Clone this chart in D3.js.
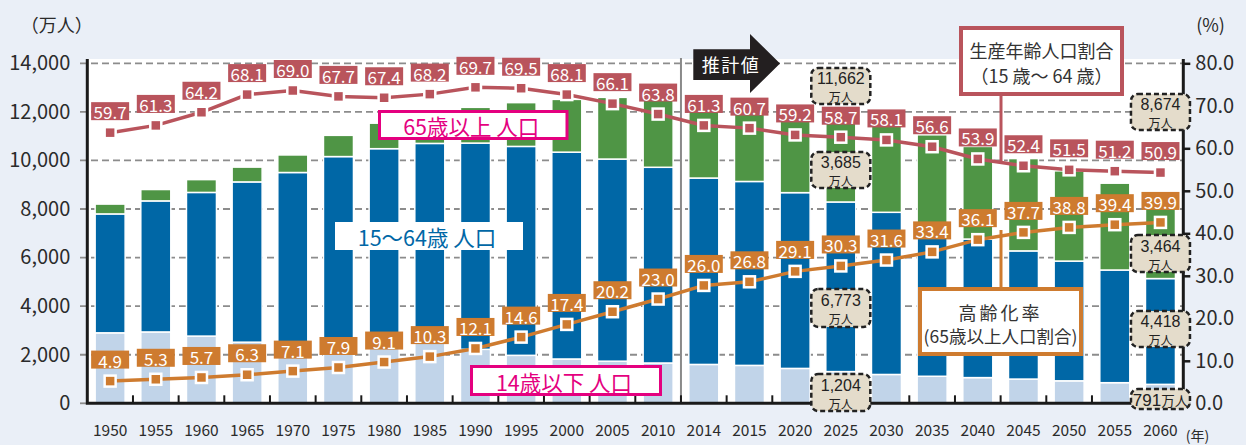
<!DOCTYPE html>
<html><head><meta charset="utf-8">
<script src="https://cdn.jsdelivr.net/npm/d3@7"></script>
<style>
body{margin:0;background:#eaeff7;}
svg{display:block;font-family:"Noto Sans CJK JP","Noto Sans",sans-serif;}
</style>
</head><body>
<svg id="c" width="1246" height="445"></svg>
<script>
// ---- data ----
const years = ["1950","1955","1960","1965","1970","1975","1980","1985","1990","1995","2000","2005","2010","2014","2015","2020","2025","2030","2035","2040","2045","2050","2055","2060"];
const pop0to14  = [2943,2980,2807,2553,2482,2723,2751,2603,2254,2003,1851,1759,1684,1623,1583,1457,1324,1204,1129,1073,1012,939,861,791];
const pop15to64 = [4966,5473,6000,6693,7157,7581,7883,8251,8614,8726,8638,8442,8173,7785,7682,7341,7084,6773,6343,5787,5353,5001,4706,4418];
const pop65plus = [411,475,535,618,733,887,1065,1247,1493,1828,2204,2576,2948,3300,3395,3612,3657,3685,3741,3868,3856,3768,3626,3464];
const ratio15to64 = [59.7,61.3,64.2,68.1,69.0,67.7,67.4,68.2,69.7,69.5,68.1,66.1,63.8,61.3,60.7,59.2,58.7,58.1,56.6,53.9,52.4,51.5,51.2,50.9];
const ratio65plus = [4.9,5.3,5.7,6.3,7.1,7.9,9.1,10.3,12.1,14.6,17.4,20.2,23.0,26.0,26.8,29.1,30.3,31.6,33.4,36.1,37.7,38.8,39.4,39.9];
const leftTicks = [0,2000,4000,6000,8000,10000,12000,14000];
const rightTicks = [0,10,20,30,40,50,60,70,80];
const calloutNumbers2025 = ["11,662","3,685","6,773","1,204"];
const calloutNumbers2060 = ["8,674","3,464","4,418","791"];

// ---- layout ----
const W=1246,H=445;
const L=87.3,R=1183.3,T=63.3,B=403.3,PT=59;
const C={bg:"#eaeff7",dark:"#0067a6",light:"#c1d4e9",green:"#4f9545",red:"#b9545c",orange:"#ce7b2f",pink:"#e4007f",txt:"#2b2b2b",grid:"#8c8c8c"};
const svg=d3.select("#c");
svg.append("rect").attr("width",W).attr("height",H).attr("fill",C.bg);
svg.append("rect").attr("x",L).attr("y",PT).attr("width",R-L).attr("height",B-PT).attr("fill","#fff");

const x=d3.scaleBand().domain(years).range([L,R]).paddingInner(0.343).paddingOuter(0.1715);
const yL=d3.scaleLinear().domain([0,14000]).range([B,T]);
const yBar=d3.scaleLinear().domain([0,14200]).range([B,T]);
const yR=d3.scaleLinear().domain([0,80]).range([B,T]);
const yLine=d3.scaleLinear().domain([0,75]).range([B,T]);
const step=x.step(), bw=x.bandwidth();
const cx=d=>x(d)+bw/2;

// gridlines
svg.append("g").selectAll("line").data(leftTicks.filter(t=>t>0)).join("line")
  .attr("x1",80).attr("x2",R).attr("y1",d=>yL(d)).attr("y2",d=>yL(d))
  .attr("stroke",C.grid).attr("stroke-width",1.8).attr("stroke-dasharray","7,4");
svg.append("line").attr("x1",80).attr("x2",L).attr("y1",B).attr("y2",B).attr("stroke",C.grid).attr("stroke-width",1.8);

// bars
const rows=years.map((y,i)=>({year:y,a:pop0to14[i],b:pop15to64[i],c:pop65plus[i]}));
const stack=d3.stack().keys(["a","b","c"])(rows);
const fills={a:C.light,b:C.dark,c:C.green};
svg.append("g").selectAll("g").data(stack).join("g").attr("fill",d=>fills[d.key])
  .selectAll("rect").data(d=>d).join("rect")
  .attr("x",d=>x(d.data.year)).attr("width",bw)
  .attr("y",d=>yBar(d[1])).attr("height",d=>yBar(d[0])-yBar(d[1]))
  .attr("stroke","#fff").attr("stroke-width",1.5);

// separator
const sepX=x("2014")-(step-bw)/2;
svg.append("line").attr("x1",sepX).attr("x2",sepX).attr("y1",58).attr("y2",B).attr("stroke","#8a8a8a").attr("stroke-width",2);

// axes lines
svg.append("path").attr("d",`M${L},${PT}V${B}H${R}V${PT}`).attr("fill","none").attr("stroke","#1a1a1a").attr("stroke-width",3);
// x ticks
svg.append("g").selectAll("line").data(d3.range(1,years.length)).join("line")
  .attr("x1",i=>L+i*step).attr("x2",i=>L+i*step).attr("y1",B).attr("y2",B-8)
  .attr("stroke","#1a1a1a").attr("stroke-width",2);

// left axis labels
const gl=svg.append("g").attr("transform",`translate(${L},0)`)
  .call(d3.axisLeft(yL).tickValues(leftTicks).tickFormat(d3.format(",")).tickSize(0).tickPadding(17));
gl.select(".domain").remove();
gl.selectAll("text").attr("font-size",20).attr("fill",C.txt).attr("font-family","Noto Sans CJK JP");
// right axis
const gr=svg.append("g").attr("transform",`translate(${R},0)`)
  .call(d3.axisRight(yR).tickValues(rightTicks).tickFormat(d3.format(".1f")).tickSize(7).tickPadding(5));
gr.select(".domain").remove();
gr.selectAll("line").attr("stroke","#1a1a1a").attr("stroke-width",2.5);
gr.selectAll("text").attr("font-size",20).attr("fill",C.txt).attr("font-family","Noto Sans CJK JP");
// x labels
svg.append("g").selectAll("text").data(years).join("text")
  .attr("x",d=>cx(d)).attr("y",429).attr("text-anchor","middle").attr("dominant-baseline","central")
  .attr("font-size",15.5).attr("fill",C.txt).text(d=>d);

// axis titles
svg.append("text").attr("x",56.7).attr("y",23.5).attr("text-anchor","middle").attr("dominant-baseline","central").attr("font-size",18).attr("fill",C.txt).text("（万人）");
svg.append("text").attr("x",1210.5).attr("y",23.5).attr("text-anchor","middle").attr("dominant-baseline","central").attr("font-size",18).attr("fill",C.txt).text("(%)");
svg.append("text").attr("x",1197.5).attr("y",435).attr("text-anchor","middle").attr("dominant-baseline","central").attr("font-size",14).attr("fill",C.txt).text("(年)");

// 推計値 arrow
svg.append("path").attr("d","M693.3,49.3H750V34L780,63.5L750,93V80H693.3Z").attr("fill","#231f20");
svg.append("text").attr("x",731).attr("y",64).attr("text-anchor","middle").attr("dominant-baseline","central")
  .attr("font-size",18).attr("letter-spacing",1.5).attr("fill","#fff").text("推計値");

// connectors
svg.append("line").attr("x1",1001).attr("x2",1001).attr("y1",96).attr("y2",163).attr("stroke",C.red).attr("stroke-width",3);
svg.append("line").attr("x1",1001).attr("x2",1001).attr("y1",230).attr("y2",287).attr("stroke",C.orange).attr("stroke-width",3);

// lines with markers and labels
function series(vals,color){
  const g=svg.append("g");
  g.append("path").datum(vals).attr("fill","none").attr("stroke",color).attr("stroke-width",3.5)
    .attr("d",d3.line().x((d,i)=>cx(years[i])).y(d=>yLine(d)));
  g.selectAll("rect.m").data(vals).join("rect").attr("class","m")
    .attr("x",(d,i)=>cx(years[i])-5.5).attr("y",d=>yLine(d)-5.5).attr("width",11).attr("height",11)
    .attr("fill",color).attr("stroke","#fff").attr("stroke-width",2.5);
  const lab=g.selectAll("g.l").data(vals).join("g").attr("class","l")
    .attr("transform",(d,i)=>`translate(${cx(years[i])},${yLine(d)-21.5})`);
  lab.append("rect").attr("x",-19).attr("y",-9).attr("width",38).attr("height",18).attr("fill",color);
  lab.append("text").attr("text-anchor","middle").attr("dominant-baseline","central").attr("y",0.5)
    .attr("font-size",17).attr("fill","#fff").text(d=>d.toFixed(1));
}
series(ratio15to64,C.red);
series(ratio65plus,C.orange);

// legend-style labels
function boxLabel(x0,y0,w,h,stroke,sw,text,color,fs){
  svg.append("rect").attr("x",x0).attr("y",y0).attr("width",w).attr("height",h).attr("fill","#fff")
    .attr("stroke",stroke).attr("stroke-width",sw);
  svg.append("text").attr("x",x0+w/2-2).attr("y",y0+h/2+0.5).attr("text-anchor","middle").attr("dominant-baseline","central")
    .attr("font-size",fs).attr("fill",color).text(text);
}
boxLabel(379.5,111.5,187.5,27,C.pink,3,"65歳以上 人口",C.pink,21.5);
boxLabel(335,222,188,28,"none",0,"15〜64歳 人口",C.dark,21.5);
boxLabel(471.5,366.5,189,28,C.pink,3,"14歳以下 人口",C.pink,21.5);

// ratio callouts
function callout(x0,y0,w,h,color,lines){
  svg.append("rect").attr("x",x0).attr("y",y0).attr("width",w).attr("height",h).attr("fill","#fff")
    .attr("stroke",color).attr("stroke-width",4);
  lines.forEach(l=>{
    svg.append("text").attr("x",x0+w/2).attr("y",l.y).attr("text-anchor","middle").attr("dominant-baseline","central")
      .attr("font-size",l.fs).attr("letter-spacing",l.ls||0).attr("fill","#333").text(l.t);
  });
}
callout(961,28,161,66,C.red,[{t:"生産年齢人口割合",y:50,fs:18},{t:"（15 歳〜 64 歳）",y:75,fs:18}]);
callout(920,289,161,65,C.orange,[{t:"高齢化率",y:312,fs:18,ls:3},{t:"(65歳以上人口割合)",y:335,fs:17.5}]);

// dashed value boxes
function dbox(col,y0,h,num,unitY,numY,inline){
  const c=cx(col), w=59;
  svg.append("rect").attr("x",c-w/2).attr("y",y0).attr("width",w).attr("height",h).attr("rx",7)
    .attr("fill","#e4dccb").attr("stroke","#222").attr("stroke-width",2.5).attr("stroke-dasharray","5,3");
  if(inline){
    const t=svg.append("text").attr("x",c).attr("y",y0+h/2+0.5).attr("text-anchor","middle").attr("dominant-baseline","central").attr("fill","#222");
    t.append("tspan").attr("font-size",17).attr("font-family","Liberation Sans").text(num);
    t.append("tspan").attr("font-size",13.5).text("万人");
  } else {
    svg.append("text").attr("x",c).attr("y",numY).attr("text-anchor","middle").attr("dominant-baseline","central")
      .attr("font-size",16).attr("font-family","Liberation Sans").attr("fill","#222").text(num);
    svg.append("text").attr("x",c).attr("y",unitY).attr("text-anchor","middle").attr("dominant-baseline","central")
      .attr("font-size",12).attr("fill","#222").text("万人");
  }
}
dbox("2025",68,36,calloutNumbers2025[0],96.5,78.5);
dbox("2025",152,36,calloutNumbers2025[1],180.5,162.5);
dbox("2025",289,38,calloutNumbers2025[2],318.5,300.5);
dbox("2025",374,37,calloutNumbers2025[3],403,385);
dbox("2060",94,36,calloutNumbers2060[0],122.5,104.5);
dbox("2060",235,37,calloutNumbers2060[1],264,246);
dbox("2060",311,36,calloutNumbers2060[2],339,321);
dbox("2060",389,20,calloutNumbers2060[3],0,0,true);
</script>
</body></html>
